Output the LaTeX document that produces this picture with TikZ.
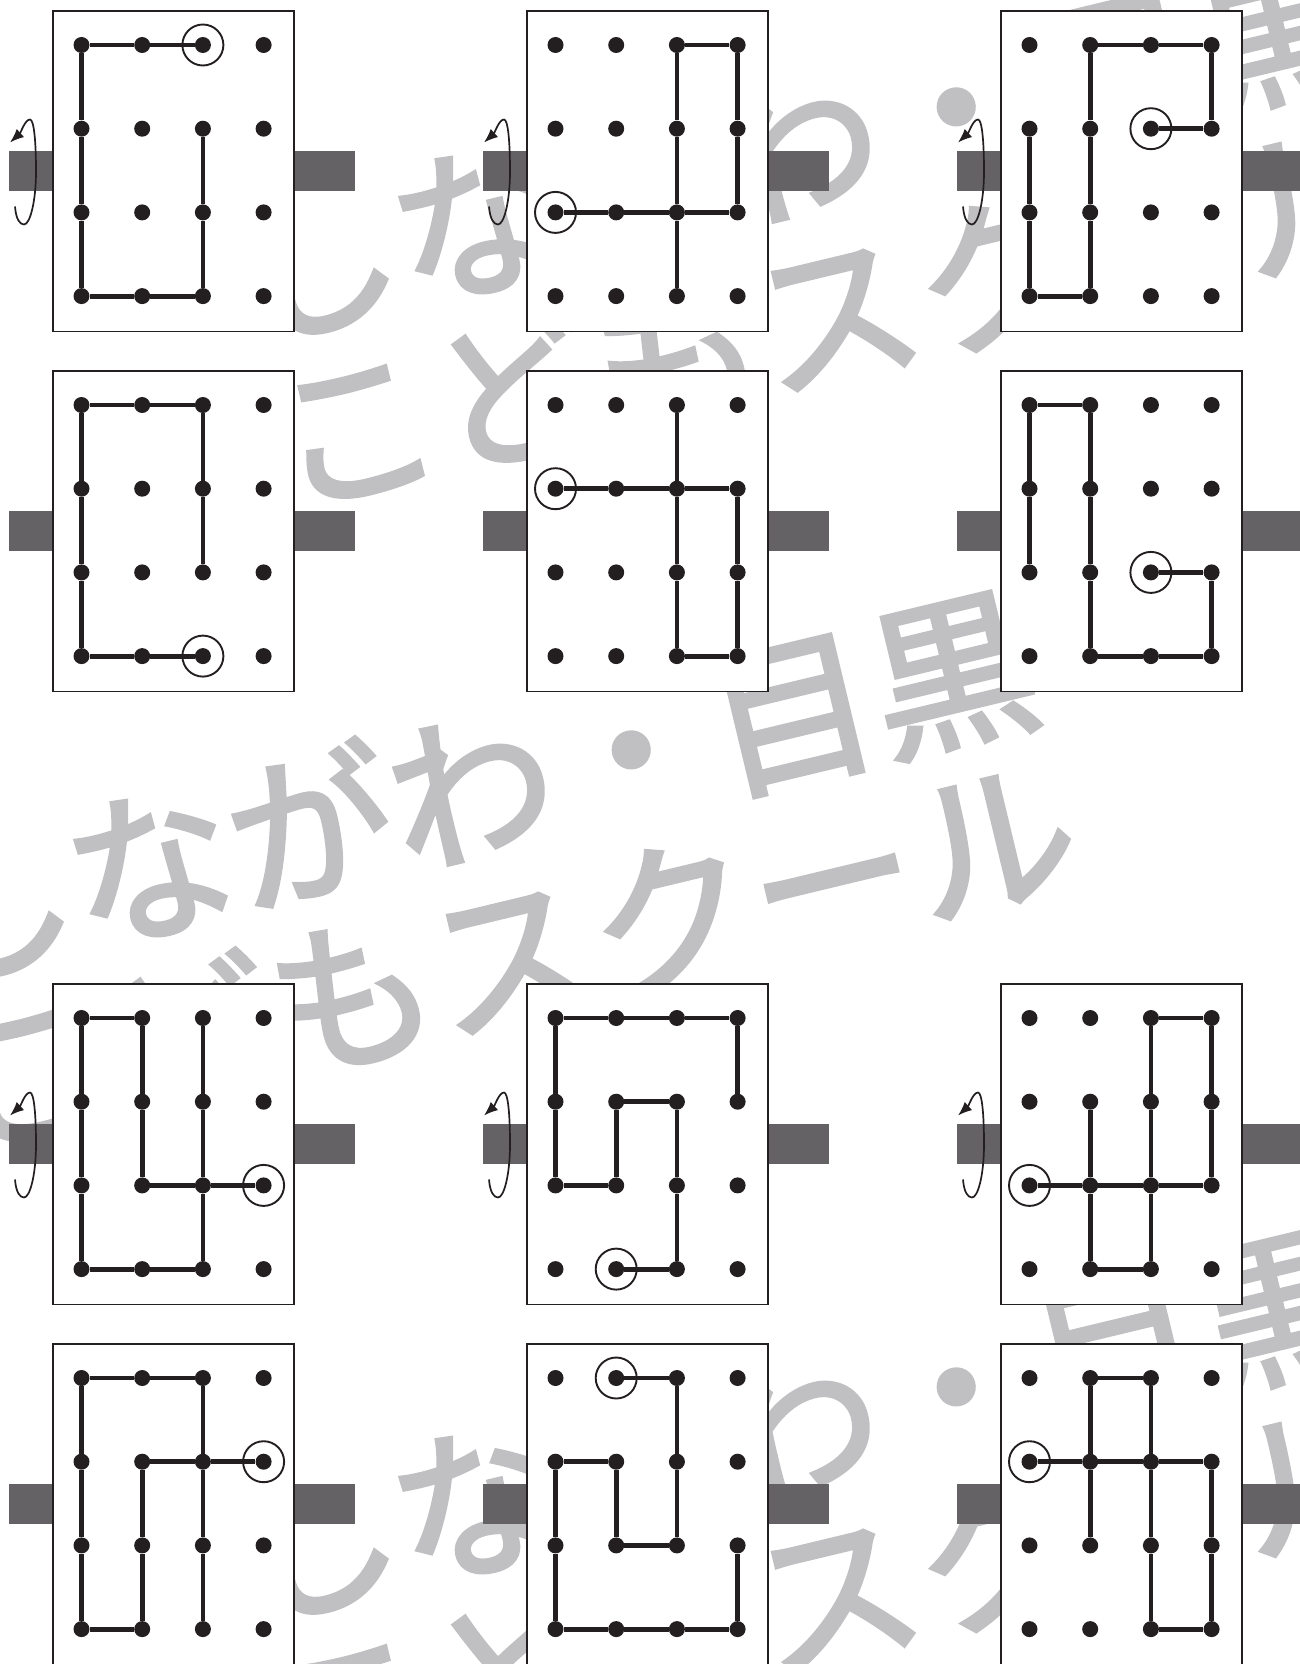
\documentclass[tikz,border=0pt]{standalone}
\usepackage{fontspec}
\newfontfamily\cjkfont[FakeBold=2.5]{Noto Sans CJK JP}
\usetikzlibrary{arrows.meta}
\definecolor{wmgray}{RGB}{192,192,194}
\definecolor{bargray}{RGB}{100,98,101}
\definecolor{ink}{RGB}{35,31,32}
\tikzset{
  dot/.style={circle, fill=ink, inner sep=0pt, minimum size=16pt},
  ring/.style={circle, draw=ink, line width=1.9pt, inner sep=0pt, minimum size=41pt},
  board/.style={draw=ink, fill=white, line width=1.9pt, inner sep=0pt,
    minimum width=241pt, minimum height=320.5pt, anchor=north west},
  axle/.style={fill=bargray},
  route/.style={draw=ink, line width=4.8pt},
  spin/.style={draw=ink, line width=1.7pt, -{Latex[length=14pt,width=11pt]}},
  wm/.style={text=wmgray, font=\cjkfont\fontsize{165}{165}\selectfont,
    rotate=13.5, anchor=west, inner sep=0pt},
}
% #1 name, #2 x of board left, #3 y of board top
\newcommand\drawpanel[3]{%
  \fill[axle] (#2-43,#3+141) rectangle (#2,#3+181);
  \fill[axle] (#2+241,#3+141) rectangle (#2+303,#3+181);
  \node[board] (#1-box) at (#2,#3) {};
  \foreach \cc in {1,...,4}{%
    \foreach \rr in {1,...,4}{%
      \node[dot] (#1-\cc-\rr) at ({#2+29.5+60.7*(\cc-1)},{#3+35+83.7*(\rr-1)}) {};
    }%
  }%
}
\newcommand\drawspin[3]{%
  \coordinate (#1-spin) at (#2-27,#3+161.5);
  \draw[spin] ([shift={(-10,35)}]#1-spin)
    .. controls ([shift={(-9,48)}]#1-spin) and ([shift={(-5,53)}]#1-spin) .. ([shift={(-1,53)}]#1-spin)
    .. controls ([shift={(5,53)}]#1-spin) and ([shift={(11,30)}]#1-spin) .. ([shift={(11,0)}]#1-spin)
    .. controls ([shift={(11,-30)}]#1-spin) and ([shift={(9,-52)}]#1-spin) .. ([shift={(5,-52)}]#1-spin)
    .. controls ([shift={(0,-52)}]#1-spin) and ([shift={(-4,-39)}]#1-spin) .. ([shift={(-15,-29)}]#1-spin);
}
\begin{document}
\begin{tikzpicture}[x=1pt,y=-1pt]
\useasboundingbox (0,0) rectangle (1299,1664);
\fill[white] (0,0) rectangle (1299,1664);
% watermark
\node[wm] (wm1a) at (-91,923) {しながわ・目黒};
\node[wm] (wm1b) at (-51,1090) {こどもスクール};
\node[wm] (wm2a) at (234,280) {しながわ・目黒};
\node[wm] (wm2b) at (274,447) {こどもスクール};
\node[wm] (wm3a) at (234,1560) {しながわ・目黒};
\node[wm] (wm3b) at (274,1727) {こどもスクール};
% panels
\drawpanel{A}{52}{10}
\drawpanel{B}{526}{10}
\drawpanel{C}{1000}{10}
\drawpanel{D}{52}{370}
\drawpanel{E}{526}{370}
\drawpanel{F}{1000}{370}
\drawpanel{G}{52}{983}
\drawpanel{H}{526}{983}
\drawpanel{I}{1000}{983}
\drawpanel{J}{52}{1343}
\drawpanel{K}{526}{1343}
\drawpanel{L}{1000}{1343}
% rotation arrows
\drawspin{A}{52}{10}
\drawspin{B}{526}{10}
\drawspin{C}{1000}{10}
\drawspin{G}{52}{983}
\drawspin{H}{526}{983}
\drawspin{I}{1000}{983}
% routes
\draw[route] (A-3-1)--(A-2-1)--(A-1-1)--(A-1-2)--(A-1-3)--(A-1-4)--(A-2-4)--(A-3-4)--(A-3-3)--(A-3-2);
\draw[route] (B-1-3)--(B-2-3)--(B-3-3)--(B-4-3)--(B-4-2)--(B-4-1)--(B-3-1)--(B-3-2)--(B-3-3)--(B-3-4);
\draw[route] (C-3-2)--(C-4-2)--(C-4-1)--(C-3-1)--(C-2-1)--(C-2-2)--(C-2-3)--(C-2-4)--(C-1-4)--(C-1-3)--(C-1-2);
\draw[route] (D-3-4)--(D-2-4)--(D-1-4)--(D-1-3)--(D-1-2)--(D-1-1)--(D-2-1)--(D-3-1)--(D-3-2)--(D-3-3);
\draw[route] (E-1-2)--(E-2-2)--(E-3-2)--(E-4-2)--(E-4-3)--(E-4-4)--(E-3-4)--(E-3-3)--(E-3-2)--(E-3-1);
\draw[route] (F-3-3)--(F-4-3)--(F-4-4)--(F-3-4)--(F-2-4)--(F-2-3)--(F-2-2)--(F-2-1)--(F-1-1)--(F-1-2)--(F-1-3);
\draw[route] (G-4-3)--(G-3-3)--(G-2-3)--(G-2-2)--(G-2-1)--(G-1-1)--(G-1-2)--(G-1-3)--(G-1-4)--(G-2-4)--(G-3-4)--(G-3-3)--(G-3-2)--(G-3-1);
\draw[route] (H-2-4)--(H-3-4)--(H-3-3)--(H-3-2)--(H-2-2)--(H-2-3)--(H-1-3)--(H-1-2)--(H-1-1)--(H-2-1)--(H-3-1)--(H-4-1)--(H-4-2);
\draw[route] (I-1-3)--(I-2-3)--(I-3-3)--(I-4-3)--(I-4-2)--(I-4-1)--(I-3-1)--(I-3-2)--(I-3-3)--(I-3-4)--(I-2-4)--(I-2-3)--(I-2-2);
\draw[route] (J-4-2)--(J-3-2)--(J-2-2)--(J-2-3)--(J-2-4)--(J-1-4)--(J-1-3)--(J-1-2)--(J-1-1)--(J-2-1)--(J-3-1)--(J-3-2)--(J-3-3)--(J-3-4);
\draw[route] (K-2-1)--(K-3-1)--(K-3-2)--(K-3-3)--(K-2-3)--(K-2-2)--(K-1-2)--(K-1-3)--(K-1-4)--(K-2-4)--(K-3-4)--(K-4-4)--(K-4-3);
\draw[route] (L-1-2)--(L-2-2)--(L-3-2)--(L-4-2)--(L-4-3)--(L-4-4)--(L-3-4)--(L-3-3)--(L-3-2)--(L-3-1)--(L-2-1)--(L-2-2)--(L-2-3);
% start rings
\node[ring] (A-start) at (A-3-1) {};
\node[ring] (B-start) at (B-1-3) {};
\node[ring] (C-start) at (C-3-2) {};
\node[ring] (D-start) at (D-3-4) {};
\node[ring] (E-start) at (E-1-2) {};
\node[ring] (F-start) at (F-3-3) {};
\node[ring] (G-start) at (G-4-3) {};
\node[ring] (H-start) at (H-2-4) {};
\node[ring] (I-start) at (I-1-3) {};
\node[ring] (J-start) at (J-4-2) {};
\node[ring] (K-start) at (K-2-1) {};
\node[ring] (L-start) at (L-1-2) {};
\end{tikzpicture}
\end{document}
